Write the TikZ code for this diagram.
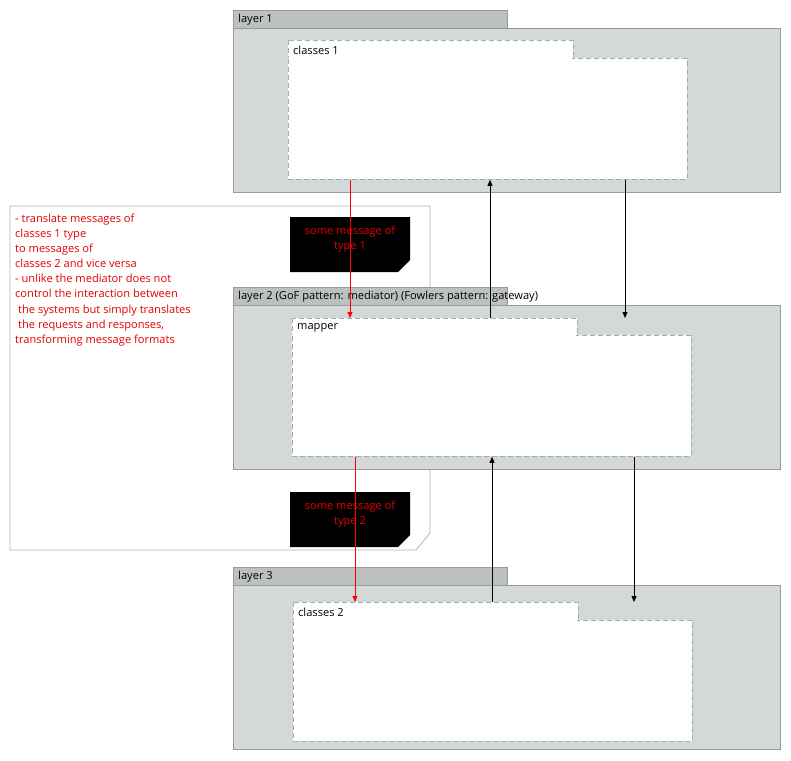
\documentclass[tikz,border=0pt]{standalone}
\usepackage{fontspec}
\setmainfont{Open Sans}
\usetikzlibrary{arrows.meta}
\definecolor{layerfill}{HTML}{D3D8D8}
\definecolor{tabfill}{HTML}{BCC0C0}
\definecolor{layerline}{HTML}{999999}
\definecolor{dashline}{HTML}{AAAAAA}
\definecolor{notered}{HTML}{E60000}
\definecolor{noteline}{HTML}{B4B4B4}
\tikzset{
  layerbody/.style={draw=layerline, fill=layerfill, line width=0.8pt},
  layertab/.style={draw=layerline, fill=tabfill, line width=0.8pt},
  classbox/.style={draw=dashline, fill=white, dashed, dash pattern=on 5pt off 3pt, line width=0.8pt},
  classbody/.style={classbox, minimum width=399pt, minimum height=121pt, anchor=north west, inner sep=0pt},
  lbl/.style={anchor=west, inner sep=0pt, font=\fontsize{11.1}{13}\selectfont},
  notetext/.style={anchor=north west, inner sep=0pt, align=left, text=notered,
    font=\fontsize{11.1}{15.15}\selectfont},
  msgtext/.style={inner sep=0pt, align=center, text=notered,
    font=\fontsize{11.1}{15}\selectfont},
  flow/.style={-{Triangle[length=6pt,width=5pt]}, line width=0.8pt},
  redflow/.style={flow, draw=red, color=red},
}
\begin{document}
\begin{tikzpicture}[x=1pt, y=-1pt]
\useasboundingbox (0,0) rectangle (791,760);
\fill[white] (0,0) rectangle (791,760);

% note with folded corner
\draw[noteline, line width=0.8pt] (10,206) -- (430,206) -- (430,533) -- (416,550) -- (10,550) -- cycle;
\node[notetext] (note) at (15,213.5) {- translate messages of\\classes 1 type\\to messages of\\classes 2 and vice versa\\- unlike the mediator does not\\control the interaction between\\\hspace{3pt}the systems but simply translates\\\hspace{3pt}the requests and responses,\\transforming message formats};

% messages between layers
\fill[black] (290,217) -- (410,217) -- (410,260) -- (398,272) -- (290,272) -- cycle;
\node[msgtext] (msg1) at (350,239) {some message of\\type 1};
\fill[black] (290,492) -- (410,492) -- (410,535) -- (398,547) -- (290,547) -- cycle;
\node[msgtext] (msg2) at (350,514) {some message of\\type 2};

% layer 1
\path[layertab] (233,10) rectangle (507,28);
\path[layerbody] (233,28) rectangle (780,192);
\node[lbl] (l1) at (238,20) {layer 1};
\path[classbox] (288,40) rectangle (573,58);
\node[classbody] (c1) at (288,58) {};
\fill[white] (289,57) rectangle (572,59.5);
\node[lbl] (c1t) at (293,50) {classes 1};

% layer 2
\path[layertab] (233,287) rectangle (507,305);
\path[layerbody] (233,305) rectangle (780,469);
\node[lbl] (l2) at (238,297) {layer 2 (GoF pattern: mediator) (Fowlers pattern: gateway)};
\path[classbox] (292,318) rectangle (577,335);
\node[classbody] (mp) at (292,335) {};
\fill[white] (293,334) rectangle (576,336.5);
\node[lbl] (mpt) at (297,327.5) {mapper};
\coordinate (mptop) at (292,318);

% layer 3
\path[layertab] (233,567) rectangle (507,585);
\path[layerbody] (233,585) rectangle (780,749);
\node[lbl] (l3) at (238,577) {layer 3};
\path[classbox] (293,602) rectangle (578,620);
\node[classbody] (c2) at (293,620) {};
\fill[white] (294,619) rectangle (577,621.5);
\node[lbl] (c2t) at (298,612) {classes 2};
\coordinate (c2top) at (293,602);

% connector columns
\coordinate (xa) at (350,0);
\coordinate (xb) at (490,0);
\coordinate (xc) at (625,0);
\coordinate (xd) at (355,0);
\coordinate (xe) at (492,0);
\coordinate (xf) at (634,0);

% flows layer 1 <-> layer 2
\draw[redflow] (c1.south -| xa) -- (mptop -| xa);
\draw[flow] (mptop -| xb) -- (c1.south -| xb);
\draw[flow] (c1.south -| xc) -- (mptop -| xc);

% flows layer 2 <-> layer 3
\draw[redflow] (mp.south -| xd) -- (c2top -| xd);
\draw[flow] (c2top -| xe) -- (mp.south -| xe);
\draw[flow] (mp.south -| xf) -- (c2top -| xf);
\end{tikzpicture}
\end{document}
